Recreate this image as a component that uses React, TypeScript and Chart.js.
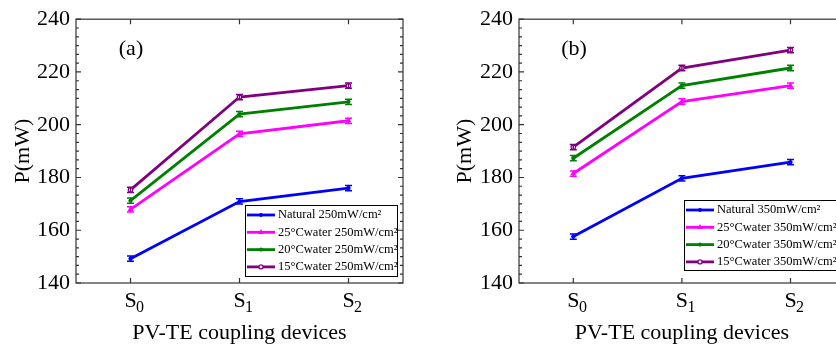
import React, { useEffect, useRef } from "react";
import { Chart, registerables } from "chart.js";
Chart.register(...registerables);

const tickBase = ["S", "S", "S"];
const tickSub = ["0", "1", "2"];
const categories = tickBase.map((b, i) => b + tickSub[i]);
const seriesNamesA = ["Natural 250mW/cm²", "25°Cwater 250mW/cm²", "20°Cwater 250mW/cm²", "15°Cwater 250mW/cm²"];
const seriesNamesB = ["Natural 350mW/cm²", "25°Cwater 350mW/cm²", "20°Cwater 350mW/cm²", "15°Cwater 350mW/cm²"];

const naturalA = [149.2, 170.9, 176.0];
const water25A = [167.9, 196.5, 201.5];
const water20A = [171.2, 204.0, 208.7];
const water15A = [175.3, 210.5, 214.8];

const naturalB = [157.6, 179.7, 185.8];
const water25B = [181.5, 208.8, 214.8];
const water20B = [187.3, 214.8, 221.5];
const water15B = [191.5, 221.5, 228.3];

const errNatural = [1.0, 1.0, 1.0];
const err25 = [1.0, 1.0, 1.0];
const err20 = [1.0, 1.0, 1.0];
const err15 = [1.0, 1.0, 1.0];

const yMin = 140;
const yMax = 240;
const yStep = 20;
const yMinorPerMajor = 5;

const colors = ["#0000ff", "#ff00ff", "#008000", "#800080"];
const pointStyles = ["star", "triangle", "star", "circle"];
const FONT = "'Liberation Serif', 'Times New Roman', Times, serif";

type PanelCfg = {
  width: number;
  padRight: number;
  yWidth: number;
  titlePadTop: number;
  label: string;
  names: string[];
  series: number[][];
  legend: { left: number; top: number; right: number; bottom: number };
};

const panels: PanelCfg[] = [
  {
    width: 418,
    padRight: 15,
    yWidth: 76,
    titlePadTop: 9.8,
    label: "(a)",
    names: seriesNamesA,
    series: [naturalA, water25A, water20A, water15A],
    legend: { left: 245, top: 205, right: 397, bottom: 276 },
  },
  {
    width: 432,
    padRight: 3,
    yWidth: 101,
    titlePadTop: 33.8,
    label: "(b)",
    names: seriesNamesB,
    series: [naturalB, water25B, water20B, water15B],
    legend: { left: 266, top: 200, right: 425, bottom: 270 },
  },
];

const errs = [errNatural, err25, err20, err15];

function drawMarker(ctx: CanvasRenderingContext2D, style: string, x: number, y: number, r: number, color: string, fill: string) {
  ctx.save();
  ctx.strokeStyle = color;
  ctx.fillStyle = fill;
  ctx.lineWidth = 1.2;
  ctx.beginPath();
  if (style === "circle") {
    ctx.arc(x, y, r, 0, Math.PI * 2);
    ctx.fill();
    ctx.stroke();
  } else if (style === "triangle") {
    ctx.moveTo(x, y - r);
    ctx.lineTo(x + r * 0.87, y + r * 0.5);
    ctx.lineTo(x - r * 0.87, y + r * 0.5);
    ctx.closePath();
    ctx.fill();
    ctx.stroke();
  } else {
    ctx.moveTo(x - r, y);
    ctx.lineTo(x + r, y);
    ctx.moveTo(x, y - r);
    ctx.lineTo(x, y + r);
    ctx.moveTo(x - r * 0.7, y - r * 0.7);
    ctx.lineTo(x + r * 0.7, y + r * 0.7);
    ctx.moveTo(x - r * 0.7, y + r * 0.7);
    ctx.lineTo(x + r * 0.7, y - r * 0.7);
    ctx.stroke();
  }
  ctx.restore();
}

function Panel({ cfg }: { cfg: PanelCfg }) {
  const ref = useRef<HTMLCanvasElement>(null);
  useEffect(() => {
    const canvas = ref.current!;
    const decor = {
      id: "decor",
      afterDatasetsDraw(chart: any) {
        const ctx = chart.ctx as CanvasRenderingContext2D;
        const y = chart.scales.y;
        chart.data.datasets.forEach((ds: any, di: number) => {
          const meta = chart.getDatasetMeta(di);
          ctx.save();
          ctx.strokeStyle = ds.borderColor;
          ctx.lineWidth = 1.5;
          meta.data.forEach((pt: any, i: number) => {
            const v = ds.data[i];
            const e = errs[di][i];
            const y1 = y.getPixelForValue(v + e);
            const y2 = y.getPixelForValue(v - e);
            const cx = pt.x;
            ctx.beginPath();
            ctx.moveTo(cx, y1);
            ctx.lineTo(cx, y2);
            ctx.moveTo(cx - 3.5, y1);
            ctx.lineTo(cx + 3.5, y1);
            ctx.moveTo(cx - 3.5, y2);
            ctx.lineTo(cx + 3.5, y2);
            ctx.stroke();
          });
          ctx.restore();
        });
      },
      afterDraw(chart: any) {
        const ctx = chart.ctx as CanvasRenderingContext2D;
        const { left, right, top, bottom } = chart.chartArea;
        const x = chart.scales.x;
        const y = chart.scales.y;
        ctx.save();
        ctx.strokeStyle = "#333";
        ctx.lineWidth = 1.2;
        ctx.strokeRect(left, top, right - left, bottom - top);
        ctx.beginPath();
        const minor = yStep / (yMinorPerMajor + 1);
        const n = Math.round((yMax - yMin) / minor);
        for (let k = 0; k <= n; k++) {
          const v = yMin + k * minor;
          const py = y.getPixelForValue(v);
          const len = k % (yMinorPerMajor + 1) === 0 ? 5 : 3;
          ctx.moveTo(left, py);
          ctx.lineTo(left + len, py);
          ctx.moveTo(right, py);
          ctx.lineTo(right - len, py);
        }
        for (let i = 0; i < categories.length; i++) {
          const px = x.getPixelForTick(i);
          ctx.moveTo(px, bottom);
          ctx.lineTo(px, bottom - 5);
          ctx.moveTo(px, top);
          ctx.lineTo(px, top + 5);
        }
        ctx.stroke();

        // x tick labels with subscripts
        ctx.fillStyle = "#000";
        ctx.textBaseline = "alphabetic";
        for (let i = 0; i < categories.length; i++) {
          const px = x.getPixelForTick(i);
          ctx.font = `22px ${FONT}`;
          ctx.textAlign = "center";
          const w = ctx.measureText(tickBase[i]).width;
          ctx.fillText(tickBase[i], px, bottom + 24);
          ctx.font = `16px ${FONT}`;
          ctx.textAlign = "left";
          ctx.fillText(tickSub[i], px + w / 2 - 0.5, bottom + 29);
        }

        // panel label
        ctx.font = `22px ${FONT}`;
        ctx.textAlign = "center";
        ctx.textBaseline = "middle";
        ctx.fillText(cfg.label, left + 55, top + 30);

        // legend
        const lg = cfg.legend;
        ctx.fillStyle = "#fff";
        ctx.fillRect(lg.left, lg.top, lg.right - lg.left, lg.bottom - lg.top);
        ctx.strokeStyle = "#000";
        ctx.lineWidth = 1;
        ctx.strokeRect(lg.left + 0.5, lg.top + 0.5, lg.right - lg.left, lg.bottom - lg.top);
        ctx.font = `12.5px ${FONT}`;
        ctx.textAlign = "left";
        ctx.textBaseline = "middle";
        chart.data.datasets.forEach((ds: any, di: number) => {
          const ry = lg.top + 10 + di * 17.3;
          ctx.strokeStyle = ds.borderColor;
          ctx.lineWidth = 2.8;
          ctx.beginPath();
          ctx.moveTo(lg.left + 2, ry);
          ctx.lineTo(lg.left + 30, ry);
          ctx.stroke();
          drawMarker(ctx, pointStyles[di], lg.left + 16, ry, 2, ds.borderColor, di === 3 ? "#fff" : ds.borderColor);
          ctx.fillStyle = "#000";
          ctx.fillText(ds.label, lg.left + 33, ry);
        });
        ctx.restore();
      },
    };

    const chart = new Chart(canvas, {
      type: "line",
      data: {
        labels: categories,
        datasets: cfg.series.map((vals, i) => ({
          label: cfg.names[i],
          data: vals,
          borderColor: colors[i],
          backgroundColor: i === 3 ? "#fff" : colors[i],
          pointBackgroundColor: i === 3 ? "#fff" : colors[i],
          pointBorderColor: colors[i],
          borderWidth: 2.8,
          pointStyle: pointStyles[i] as any,
          pointRadius: 2.2,
          pointBorderWidth: 1.2,
          tension: 0,
          fill: false,
        })),
      },
      options: {
        responsive: false,
        maintainAspectRatio: false,
        animation: false,
        devicePixelRatio: 1,
        layout: { padding: { left: 0, right: cfg.padRight, top: 18, bottom: 0 } },
        plugins: { legend: { display: false }, tooltip: { enabled: false } },
        scales: {
          x: {
            type: "category",
            offset: true,
            grid: { display: false, drawTicks: false },
            border: { display: false },
            ticks: { display: false },
            title: {
              display: true,
              text: "PV-TE coupling devices",
              color: "#000",
              font: { family: FONT, size: 22 },
              padding: { top: 0, bottom: 2 },
            },
            afterFit: (s: any) => {
              s.height = 65;
            },
          },
          y: {
            min: yMin,
            max: yMax,
            grid: { display: false, drawTicks: false },
            border: { display: false },
            ticks: { stepSize: yStep, color: "#000", font: { family: FONT, size: 22 }, padding: 6 },
            title: {
              display: true,
              text: "P(mW)",
              color: "#000",
              font: { family: FONT, size: 22 },
              padding: { top: cfg.titlePadTop, bottom: 0 },
            },
            afterFit: (s: any) => {
              s.width = cfg.yWidth;
            },
          },
        },
      },
      plugins: [decor],
    } as any);
    return () => chart.destroy();
  }, [cfg]);
  return <canvas ref={ref} width={cfg.width} height={348} style={{ display: "block", width: cfg.width, height: 348, flexShrink: 0 }} />;
}

export default function App() {
  return (
    <div style={{ position: "fixed", left: 0, top: 0, width: 836, height: 348, overflow: "hidden", display: "flex", background: "#fff" }}>
      {panels.map((p, i) => (
        <Panel key={i} cfg={p} />
      ))}
    </div>
  );
}
